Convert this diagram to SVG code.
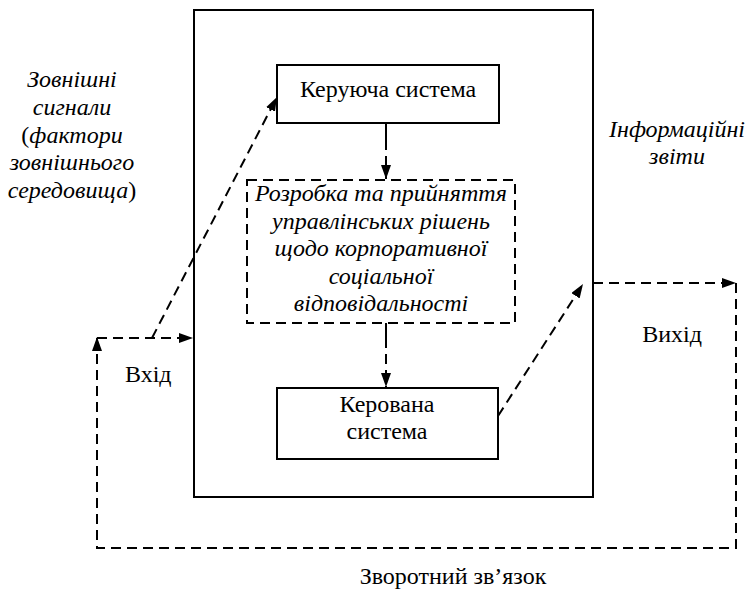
<svg xmlns="http://www.w3.org/2000/svg" width="750" height="596" viewBox="0 0 750 596">
  <defs>
    <marker id="arr" viewBox="0 0 14 10" refX="14" refY="5" markerWidth="14" markerHeight="10" markerUnits="userSpaceOnUse" orient="auto">
      <path d="M0,0 L14,5 L0,10 Z" fill="#000"/>
    </marker>
  </defs>
  <rect width="750" height="596" fill="#fff"/>

  <g id="system" fill="#fff" stroke="#000" stroke-width="2">
    <rect x="194" y="10" width="399" height="487"/>
  </g>

  <g id="controlling">
    <rect x="277" y="65" width="222" height="58" fill="#fff" stroke="#000" stroke-width="2"/>
    <text x="300" y="97" font-family="Liberation Serif" font-size="24">Керуюча система</text>
  </g>

  <g id="decisions">
    <rect x="247" y="180" width="268" height="143" fill="#fff" stroke="#000" stroke-width="2" stroke-dasharray="10 6"/>
    <text x="381" y="201" style="font-family:'Liberation Serif',serif;font-size:24px;font-style:italic;text-anchor:middle">Розробка та прийняття</text>
    <text x="381" y="229" style="font-family:'Liberation Serif',serif;font-size:24px;font-style:italic;text-anchor:middle">управлінських рішень</text>
    <text x="381" y="256" style="font-family:'Liberation Serif',serif;font-size:24px;font-style:italic;text-anchor:middle">щодо корпоративної</text>
    <text x="381" y="284" style="font-family:'Liberation Serif',serif;font-size:24px;font-style:italic;text-anchor:middle">соціальної</text>
    <text x="381" y="311" style="font-family:'Liberation Serif',serif;font-size:24px;font-style:italic;text-anchor:middle">відповідальності</text>
  </g>

  <g id="controlled">
    <rect x="277" y="388" width="221" height="71" fill="#fff" stroke="#000" stroke-width="2"/>
    <text x="387" y="412" font-family="serif" font-size="24" text-anchor="middle">Керована</text>
    <text x="387" y="439" font-family="serif" font-size="24" text-anchor="middle">система</text>
  </g>

  <g id="labels">
    <text x="72" y="87" font-family="Liberation Serif" font-size="24" font-style="italic" text-anchor="middle">Зовнішні</text>
    <text x="72" y="115" font-family="Liberation Serif" font-size="24" font-style="italic" text-anchor="middle">сигнали</text>
    <text x="72" y="143" font-family="Liberation Serif" font-size="24" font-style="italic" text-anchor="middle"><tspan font-style="normal">(</tspan>фактори</text>
    <text x="72" y="170" font-family="Liberation Serif" font-size="24" font-style="italic" text-anchor="middle">зовнішнього</text>
    <text x="72" y="198" font-family="Liberation Serif" font-size="24" font-style="italic" text-anchor="middle">середовища<tspan font-style="normal">)</tspan></text>
    <text x="677" y="137" font-family="Liberation Serif" font-size="24" font-style="italic" text-anchor="middle">Інформаційні</text>
    <text x="677" y="164" font-family="Liberation Serif" font-size="24" font-style="italic" text-anchor="middle">звіти</text>
    <text x="125" y="382" font-family="Liberation Serif" font-size="24">Вхід</text>
    <text x="672" y="342" font-family="Liberation Serif" font-size="24" text-anchor="middle">Вихід</text>
    <text x="453" y="584" font-family="Liberation Serif" font-size="24" text-anchor="middle">Зворотний зв’язок</text>
  </g>

  <g id="connectors" fill="none" stroke="#000" stroke-width="2">
    <!-- control flow inside the system -->
    <line x1="386" y1="123" x2="386" y2="140"/>
    <line x1="386" y1="140" x2="386" y2="179" stroke-dasharray="10 6" marker-end="url(#arr)"/>
    <line x1="386" y1="323" x2="386" y2="338"/>
    <line x1="386" y1="338" x2="386" y2="387" stroke-dasharray="10 6" marker-end="url(#arr)"/>
    <g stroke-dasharray="10 6">
      <!-- feedback loop: output around the bottom back to input -->
      <polyline points="736,283 736,548 97,548 97,337" marker-end="url(#arr)"/>
      <line x1="97" y1="338" x2="193" y2="338" marker-end="url(#arr)"/>
      <!-- external signals to the controlling system -->
      <line x1="152" y1="338" x2="277" y2="97" marker-end="url(#arr)"/>
      <!-- reports from the controlled system -->
      <line x1="498" y1="416" x2="583" y2="284" marker-end="url(#arr)"/>
      <line x1="593" y1="283" x2="736" y2="283" marker-end="url(#arr)"/>
    </g>
  </g>
</svg>
